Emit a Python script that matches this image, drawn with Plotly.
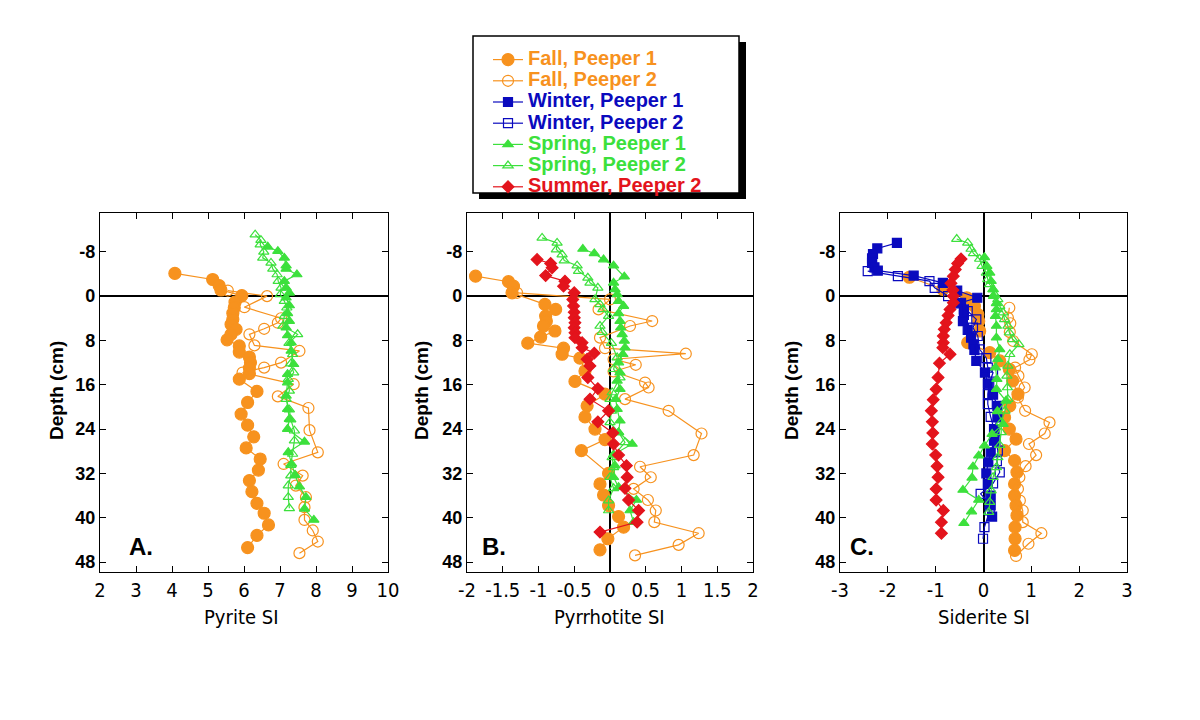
import plotly.graph_objects as go
from plotly.subplots import make_subplots

# ---- datos (profundidad en cm, indice de saturacion) ----
# Panel A: Pyrite SI
a_fall1_d = [-4.1, -3.0, -1.9, -1.1, -0.1, 1.1, 2.1, 3.1, 4.2, 5.1, 6.0, 6.9, 7.9, 9.0, 10.1, 11.0, 12.0, 13.0, 14.0, 15.0,
             17.2, 19.2, 21.3, 23.3, 25.4, 27.4, 29.4, 31.4, 33.3, 35.3, 37.4, 39.2, 41.3, 43.2, 45.4]
a_fall1_si = [4.08, 5.13, 5.31, 5.36, 5.94, 5.75, 5.73, 5.69, 5.69, 5.64, 5.78, 5.64, 5.53, 5.87, 5.87, 6.15, 6.18, 6.15, 6.15, 5.87,
              6.36, 6.10, 5.92, 6.10, 6.27, 6.06, 6.45, 6.40, 6.15, 6.22, 6.36, 6.56, 6.68, 6.36, 6.10]
a_fall2_d = [-1.0, 0.0, 2.0, 4.0, 4.8, 5.9, 6.9, 8.9, 9.9, 12.0, 12.9, 13.8, 15.9, 18.1, 20.2, 24.2, 28.2, 30.3, 32.4, 34.2,
             36.3, 38.1, 40.4, 42.3, 44.3, 46.4]
a_fall2_si = [5.55, 6.64, 6.01, 7.03, 6.94, 6.56, 6.15, 6.29, 7.54, 7.03, 6.56, 5.96, 7.38, 6.94, 7.79, 7.82, 8.05, 7.10, 7.63, 7.44,
              7.72, 7.68, 7.68, 7.91, 8.05, 7.54]
a_spring1_d = [-8.9, -8.1, -6.9, -5.5, -4.9, -3.9, -2.7, -1.5, -0.6, 0.3, 1.7, 3.1, 4.5, 5.7, 7.1, 8.4, 9.9, 12.3, 14.1, 15.6,
               18.0, 20.4, 22.2, 24.0, 26.3, 28.2, 30.3, 32.3, 34.4, 36.3, 38.4, 40.4]
a_spring1_si = [6.66, 6.94, 7.12, 7.17, 7.17, 7.47, 7.12, 7.17, 7.26, 7.17, 7.26, 7.21, 7.26, 7.17, 7.21, 7.31, 7.31, 7.38, 7.21, 7.21,
                7.17, 7.21, 7.26, 7.21, 7.68, 7.23, 7.32, 7.42, 7.54, 7.72, 7.68, 7.94]
a_spring2_d = [-11.1, -10.1, -9.3, -8.0, -6.9, -6.0, -4.9, -3.9, -2.7, -1.5, -0.3, 0.9, 2.1, 3.6, 5.4, 6.9, 8.5, 10.5, 12.2, 13.8,
               15.0, 17.1, 18.6, 20.5, 22.3, 24.3, 26.1, 28.5, 30.5, 32.4, 34.2, 36.3, 38.3]
a_spring2_si = [6.31, 6.47, 6.45, 6.55, 6.52, 6.75, 6.80, 6.92, 6.95, 7.03, 7.01, 7.12, 7.19, 7.12, 7.08, 7.49, 7.25, 7.35, 7.30, 7.38,
                7.23, 7.26, 7.17, 7.26, 7.30, 7.40, 7.40, 7.35, 7.30, 7.30, 7.23, 7.23, 7.26]

# Panel B: Pyrrhotite SI
b_fall1_d = [-3.6, -2.6, -1.8, -0.6, 1.5, 2.4, 3.6, 4.5, 5.4, 6.3, 7.4, 8.5, 9.4, 10.5, 11.2, 13.5, 15.4, 17.7, 19.8, 21.8,
             24.0, 25.9, 27.9, 32.0, 33.9, 35.9, 37.8, 39.8, 41.7, 43.8, 45.8]
b_fall1_si = [-1.88, -1.42, -1.35, -1.37, -0.91, -0.76, -0.90, -0.89, -0.93, -0.77, -0.97, -1.15, -0.65, -0.67, -0.42, -0.35, -0.49, -0.07, -0.32, -0.35,
              -0.21, -0.07, -0.40, -0.02, -0.14, -0.09, -0.02, 0.12, 0.19, -0.03, -0.14]
b_fall2_d = [-0.6, 0.6, 2.4, 4.5, 5.4, 7.5, 9.4, 10.4, 11.4, 12.4, 13.6, 15.6, 16.5, 18.6, 20.7, 24.8, 28.7, 30.8, 32.7, 34.8,
             36.8, 38.7, 40.8, 42.8, 44.9, 46.8]
b_fall2_si = [-1.30, 0.00, -0.16, 0.59, 0.28, -0.14, -0.07, 1.06, 0.05, 0.36, 0.05, 0.49, 0.54, 0.21, 0.82, 1.28, 1.17, 0.42, 0.57, 0.33,
              0.53, 0.64, 0.62, 1.24, 0.96, 0.35]
b_spring1_d = [-8.5, -7.7, -6.6, -5.5, -3.5, -2.4, -1.2, -0.3, 0.9, 1.8, 3.1, 4.5, 5.7, 6.9, 8.1, 9.3, 10.5, 12.0, 13.8, 15.3,
               16.8, 18.6, 20.4, 22.5, 24.6, 26.7, 28.6, 30.6, 32.7, 34.5, 36.8, 38.7, 40.8]
b_spring1_si = [-0.38, -0.22, -0.09, 0.05, 0.20, 0.05, 0.07, 0.10, 0.12, 0.19, 0.12, 0.14, 0.15, 0.17, 0.20, 0.21, 0.18, 0.12, 0.14, 0.10,
                0.14, 0.08, 0.10, 0.14, 0.12, 0.31, 0.05, 0.07, 0.05, 0.12, 0.37, 0.28, 0.33]
b_spring2_d = [-10.5, -9.6, -8.4, -7.5, -6.4, -5.5, -4.5, -3.3, -2.4, -1.5, 0.6, 1.5, 2.4, 3.6, 5.4, 6.5, 8.5, 11.1, 13.2, 14.7,
               17.4, 18.6, 20.7, 22.8, 24.6, 26.4, 29.1, 30.9, 32.7, 34.7, 36.9, 38.7]
b_spring2_si = [-0.95, -0.74, -0.75, -0.67, -0.64, -0.46, -0.44, -0.31, -0.28, -0.17, -0.21, -0.14, -0.10, -0.02, -0.14, -0.11, 0.02, 0.10, 0.05, 0.14,
                0.03, 0.00, 0.02, 0.00, 0.12, 0.21, 0.03, 0.05, 0.00, 0.05, -0.02, -0.02]
b_summer2_d = [-6.6, -5.9, -5.1, -3.7, -2.7, -1.8, -0.6, 0.6, 1.8, 2.9, 3.9, 4.8, 5.7, 6.6, 7.5, 8.4, 9.3, 10.3, 11.4, 12.6,
               14.7, 16.7, 18.6, 20.7, 22.7, 24.7, 26.7, 28.7, 30.6, 32.7, 34.7, 36.8, 38.7, 40.8, 42.6]
b_summer2_si = [-1.02, -0.83, -0.81, -0.90, -0.63, -0.65, -0.50, -0.52, -0.51, -0.50, -0.50, -0.49, -0.50, -0.49, -0.49, -0.39, -0.39, -0.22, -0.32, -0.28,
                -0.31, -0.17, -0.28, -0.02, -0.17, 0.04, 0.05, 0.12, 0.23, 0.24, 0.21, 0.26, 0.40, 0.38, -0.14]

# Panel C: Siderite SI
c_fall1_d = [-3.4, -1.2, 0.3, 1.8, 3.3, 4.5, 6.3, 8.4, 10.2, 11.7, 13.2, 15.3, 17.7, 19.8, 21.9, 24.0, 25.8, 27.9, 29.7, 31.8,
             33.9, 36.0, 37.8, 39.6, 41.7, 43.8, 45.9]
c_fall1_si = [-1.55, -0.85, -0.35, -0.19, -0.12, -0.10, -0.08, -0.33, 0.13, 0.34, 0.54, 0.61, 0.72, 0.55, 0.44, 0.54, 0.68, 0.44, 0.65, 0.70,
              0.65, 0.65, 0.68, 0.70, 0.66, 0.66, 0.65]
c_fall2_d = [2.1, 3.9, 4.9, 6.5, 8.1, 10.5, 11.5, 12.9, 14.4, 16.5, 18.3, 20.7, 22.8, 24.8, 26.7, 28.7, 30.7, 32.7, 34.8, 36.9,
             38.7, 40.8, 42.8, 44.7, 46.9]
c_fall2_si = [0.54, 0.51, 0.56, 0.55, 0.62, 1.01, 0.96, 0.66, 0.73, 0.86, 0.72, 0.87, 1.38, 1.28, 0.95, 1.10, 0.88, 0.75, 0.72, 0.76,
              0.82, 0.82, 1.21, 0.94, 0.68]
c_winter1_d = [-9.6, -8.6, -7.6, -6.8, -6.0, -5.2, -4.6, -3.7, -2.4, -1.0, 0.3, 1.2, 2.4, 3.4, 4.5, 6.1, 7.5, 8.7, 9.7, 11.7,
               13.8, 15.8, 17.8, 19.8, 21.9, 24.0, 26.1, 28.2, 30.0, 32.0, 33.9, 36.0, 37.8, 39.8]
c_winter1_si = [-1.81, -2.22, -2.31, -2.33, -2.33, -2.28, -2.21, -1.46, -0.85, -0.55, -0.13, -0.47, -0.41, -0.41, -0.43, -0.33, -0.26, -0.21, -0.19, -0.15,
                0.03, 0.09, 0.20, 0.29, 0.29, 0.23, 0.22, 0.15, 0.10, 0.06, 0.09, 0.15, 0.15, 0.18]
c_winter2_d = [-4.5, -3.6, -2.7, -1.5, 0.0, 1.3, 2.7, 4.2, 5.7, 7.2, 9.6, 11.2, 12.9, 13.8, 15.8, 17.7, 19.5, 21.8, 24.0, 26.0,
               27.9, 29.8, 31.8, 33.8, 35.7, 37.5, 38.7, 41.7, 43.8]
c_winter2_si = [-2.42, -1.79, -1.13, -1.02, -0.74, -0.55, -0.33, -0.15, -0.22, -0.12, -0.08, 0.06, 0.09, 0.20, 0.12, 0.09, 0.09, 0.15, 0.22, 0.25,
                0.30, 0.28, 0.34, 0.20, -0.06, 0.13, 0.13, 0.02, -0.01]
c_spring1_d = [-7.0, -5.4, -4.2, -2.7, -1.2, 0.0, 1.3, 2.4, 3.6, 5.4, 7.5, 9.6, 11.4, 12.9, 15.0, 16.8, 18.9, 20.8, 23.1, 24.9,
               27.0, 28.8, 30.8, 32.8, 35.0, 36.8, 38.9, 41.0]
c_spring1_si = [0.02, 0.07, 0.13, 0.16, 0.20, 0.21, 0.27, 0.27, 0.25, 0.27, 0.27, 0.34, 0.30, 0.25, 0.28, 0.27, 0.47, 0.29, 0.41, 0.18,
                0.02, -0.10, -0.22, -0.24, -0.43, -0.10, -0.25, -0.41]
c_spring2_d = [-10.3, -9.6, -8.5, -7.7, -6.7, -5.4, -4.2, -3.0, -2.1, -1.2, -0.3, 0.6, 1.8, 3.0, 4.2, 5.4, 6.6, 7.8, 8.7, 10.5,
               12.6, 14.4, 16.5, 18.6, 20.7, 22.8, 24.6, 26.9, 29.1, 30.9, 32.7, 35.1, 37.2, 39.0]
c_spring2_si = [-0.56, -0.33, -0.26, -0.21, -0.08, -0.03, 0.06, 0.09, 0.13, 0.20, 0.23, 0.30, 0.34, 0.41, 0.44, 0.51, 0.54, 0.61, 0.74, 0.55,
                0.51, 0.49, 0.50, 0.51, 0.45, 0.37, 0.37, 0.34, 0.30, 0.27, 0.20, 0.16, 0.13, 0.11]
c_summer2_d = [-6.7, -5.9, -4.8, -3.6, -2.3, -1.1, 0.0, 1.2, 2.4, 3.5, 4.8, 6.0, 7.2, 8.4, 9.3, 10.5, 12.1, 14.7, 16.8, 18.7,
               20.7, 22.7, 24.7, 26.7, 28.7, 30.7, 32.7, 34.8, 36.8, 38.7, 40.8, 42.8]
c_summer2_si = [-0.47, -0.54, -0.59, -0.63, -0.68, -0.64, -0.63, -0.63, -0.70, -0.74, -0.78, -0.82, -0.84, -0.84, -0.85, -0.70, -0.92, -0.95, -0.99, -1.05,
                -1.09, -1.07, -1.06, -1.07, -1.00, -0.97, -0.95, -0.99, -0.99, -0.84, -0.88, -0.88]

depth_ticks = [-8, 0, 8, 16, 24, 32, 40, 48]
depth_text = ['-8', '0', '8', '16', '24', '32', '40', '48']
a_ticks = [2, 3, 4, 5, 6, 7, 8, 9, 10]
a_ticktext = ['2', '3', '4', '5', '6', '7', '8', '9', '10']
b_ticks = [-2, -1.5, -1, -0.5, 0, 0.5, 1, 1.5, 2]
b_ticktext = ['-2', '-1.5', '-1', '-0.5', '0', '0.5', '1', '1.5', '2']
c_ticks = [-3, -2, -1, 0, 1, 2, 3]
c_ticktext = ['-3', '-2', '-1', '0', '1', '2', '3']

NARANJA = '#F7921E'
AZUL = '#0A0ABE'
VERDE = '#3CE03C'
ROJO = '#E3141C'

estilos = {
    'fall1': ('Fall, Peeper 1', NARANJA, 'circle', 12),
    'fall2': ('Fall, Peeper 2', NARANJA, 'circle-open', 11),
    'winter1': ('Winter, Peeper 1', AZUL, 'square', 9),
    'winter2': ('Winter, Peeper 2', AZUL, 'square-open', 9),
    'spring1': ('Spring, Peeper 1', VERDE, 'triangle-up', 9),
    'spring2': ('Spring, Peeper 2', VERDE, 'triangle-up-open', 9),
    'summer2': ('Summer, Peeper 2', ROJO, 'diamond', 9),
}

FUENTE = 'Liberation Sans, Arial, Helvetica, sans-serif'
ANGOSTA = 'Liberation Sans Narrow, Arial Narrow, DejaVu Sans Condensed, sans-serif'

# la pagina deja ~7 px de margen, se compensa en las posiciones
OFF = 7


def px(x):
    return (x - OFF) / 1200


def py(y):
    return 1 - (y - OFF) / 720


def serie(si, d, key, show):
    nombre, color, simbolo, tam = estilos[key]
    return go.Scatter(x=si, y=d, mode='lines+markers',
                      name=f"<span style='font-size:20px;color:{color}'><b>{nombre}</b></span>",
                      legendgroup=key, showlegend=show,
                      line=dict(color=color, width=1.2),
                      marker=dict(symbol=simbolo, size=tam, color=color,
                                  line=dict(color=color, width=1.2)))


fig = make_subplots(rows=1, cols=3)

fig.add_trace(serie(a_fall1_si, a_fall1_d, 'fall1', False), row=1, col=1)
fig.add_trace(serie(a_fall2_si, a_fall2_d, 'fall2', False), row=1, col=1)
fig.add_trace(serie(a_spring1_si, a_spring1_d, 'spring1', False), row=1, col=1)
fig.add_trace(serie(a_spring2_si, a_spring2_d, 'spring2', False), row=1, col=1)

fig.add_trace(serie(b_fall1_si, b_fall1_d, 'fall1', False), row=1, col=2)
fig.add_trace(serie(b_fall2_si, b_fall2_d, 'fall2', False), row=1, col=2)
fig.add_trace(serie(b_spring1_si, b_spring1_d, 'spring1', False), row=1, col=2)
fig.add_trace(serie(b_spring2_si, b_spring2_d, 'spring2', False), row=1, col=2)
fig.add_trace(serie(b_summer2_si, b_summer2_d, 'summer2', False), row=1, col=2)

fig.add_trace(serie(c_fall1_si, c_fall1_d, 'fall1', True), row=1, col=3)
fig.add_trace(serie(c_fall2_si, c_fall2_d, 'fall2', True), row=1, col=3)
fig.add_trace(serie(c_winter1_si, c_winter1_d, 'winter1', True), row=1, col=3)
fig.add_trace(serie(c_winter2_si, c_winter2_d, 'winter2', True), row=1, col=3)
fig.add_trace(serie(c_spring1_si, c_spring1_d, 'spring1', True), row=1, col=3)
fig.add_trace(serie(c_spring2_si, c_spring2_d, 'spring2', True), row=1, col=3)
fig.add_trace(serie(c_summer2_si, c_summer2_d, 'summer2', True), row=1, col=3)

ejes = dict(showline=True, linecolor='black', linewidth=1.2, mirror='ticks',
            ticks='inside', ticklen=6, tickcolor='black', showgrid=False, automargin=False,
            zeroline=True, zerolinecolor='black', zerolinewidth=2)

fig.update_xaxes(**ejes, tickfont=dict(family=ANGOSTA, size=20, color='black'))
fig.update_yaxes(**ejes, range=[49.8, -15], tickvals=depth_ticks, ticktext=depth_text,
                 tickfont=dict(family=FUENTE, size=18, color='black', weight='bold'))

fig.update_xaxes(domain=[px(99), px(387)], range=[2, 10], tickvals=a_ticks, ticktext=a_ticktext, row=1, col=1)
fig.update_xaxes(domain=[px(466), px(752)], range=[-2, 2], tickvals=b_ticks, ticktext=b_ticktext, row=1, col=2)
fig.update_xaxes(domain=[px(839), px(1126)], range=[-3, 3], tickvals=c_ticks, ticktext=c_ticktext, row=1, col=3)
fig.update_yaxes(domain=[py(571), py(212)])

anotaciones = []
for xc, letra, xl in [(55, 'A.', 140), (420, 'B.', 493), (790, 'C.', 861)]:
    anotaciones.append(dict(x=px(xc), y=py(390), xref='paper', yref='paper', text='<b>Depth (cm)</b>',
                            xanchor='center', yanchor='middle', textangle=-90, showarrow=False,
                            font=dict(family=FUENTE, size=19, color='black')))
    anotaciones.append(dict(x=px(xl), y=py(545), xref='paper', yref='paper', text=f'<b>{letra}</b>',
                            xanchor='center', yanchor='middle', showarrow=False,
                            font=dict(family=FUENTE, size=24, color='black')))
xt = {'Pyrite SI': 240, 'Pyrrhotite SI': 608, 'Siderite SI': 983}
for titulo, xc in xt.items():
    anotaciones.append(dict(x=px(xc), y=py(616), xref='paper', yref='paper', text=titulo,
                            xanchor='center', yanchor='middle', showarrow=False,
                            font=dict(family=ANGOSTA, size=20, color='black')))

fig.update_layout(
    width=1200, height=720,
    margin=dict(l=0, r=0, t=0, b=0, autoexpand=False),
    paper_bgcolor='white', plot_bgcolor='white',
    showlegend=True,
    legend=dict(x=px(487), y=py(43), xanchor='left', yanchor='top',
                bgcolor='rgba(0,0,0,0)', borderwidth=0,
                font=dict(family=FUENTE, size=14), tracegroupgap=0),
    annotations=anotaciones,
    shapes=[
        dict(type='rect', xref='paper', yref='paper', x0=px(478), x1=px(745),
             y0=py(198), y1=py(41), fillcolor='black', line=dict(width=0), layer='above'),
        dict(type='rect', xref='paper', yref='paper', x0=px(472), x1=px(738),
             y0=py(192), y1=py(35), fillcolor='white', line=dict(color='black', width=1.5), layer='above'),
    ],
)

fig.write_html("out.html")
